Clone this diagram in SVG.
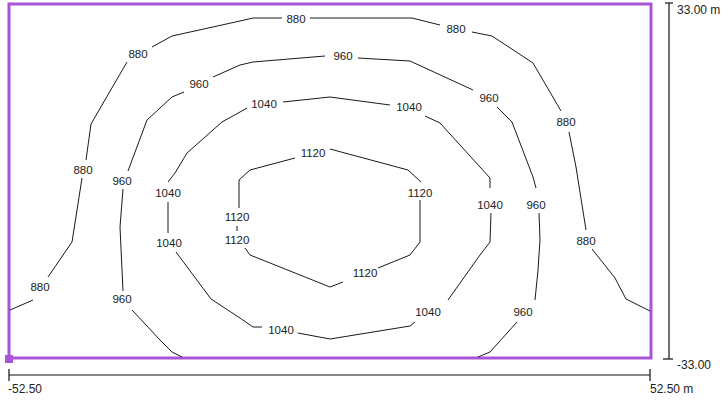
<svg xmlns="http://www.w3.org/2000/svg" width="722" height="401" viewBox="0 0 722 401">
<style>
.c{fill:none;stroke:#1a1a1a;stroke-width:1}
.l{font-family:"Liberation Sans",Arial,sans-serif;font-size:11.5px;fill:#222;text-anchor:middle}
.s{font-family:"Liberation Sans",Arial,sans-serif;font-size:12px;fill:#222}
.ax{fill:none;stroke:#111;stroke-width:1.2}
</style>
<rect width="722" height="401" fill="#fff"/>
<g id="frame">
<rect x="9" y="4" width="642" height="354" fill="none" stroke="#a855d8" stroke-width="3"/>
<rect x="5" y="355" width="8" height="8" fill="#a855d8"/>
</g>
<g id="connectors">
<g id="c880">
<polyline class="c" points="10,310 33,300"/>
<polyline class="c" points="48,277 72,242 82,178"/>
<polyline class="c" points="86,160 91,124 127,62"/>
<polyline class="c" points="152,47 172,36 240,21 253,18 282,18"/>
<polyline class="c" points="310,18 412,18 440,25"/>
<polyline class="c" points="472,32 492,36 533,63 561,111"/>
<polyline class="c" points="569,132 576,167 586,230"/>
<polyline class="c" points="592,249 615,278 626,299 650,311"/>
</g>
<g id="c960">
<polyline class="c" points="182,357 172,352 160,340 132,310"/>
<polyline class="c" points="123,291 120,227 123,189"/>
<polyline class="c" points="128,171 147,120 172,97 184,92"/>
<polyline class="c" points="213,77 240,65 253,62 325,56"/>
<polyline class="c" points="358,58 410,61 473,90"/>
<polyline class="c" points="497,107 512,122 533,177 536,188"/>
<polyline class="c" points="539,213 540,240 538,270 535,300"/>
<polyline class="c" points="517,322 490,352 478,357"/>
</g>
<g id="c1040">
<polyline class="c" points="168,182 175,173 187,153 222,122 240,112 247,108"/>
<polyline class="c" points="283,102 330,97 390,105"/>
<polyline class="c" points="425,116 440,123 490,178 490,188"/>
<polyline class="c" points="491,213 490,242 480,255 448,300"/>
<polyline class="c" points="415,322 410,326 330,339 298,333"/>
<polyline class="c" points="262,327 253,327 240,318 211,299 176,252"/>
<polyline class="c" points="168,202 168,233"/>
</g>
<g id="c1120">
<polyline class="c" points="295,158 250,170 239,180 239,208"/>
<polyline class="c" points="237,226 237,231"/>
<polyline class="c" points="245,248 250,255 330,287 343,282"/>
<polyline class="c" points="378,268 410,255 420,242 420,200"/>
<polyline class="c" points="421,182 408,170 330,149"/>
</g>
</g>
<g id="labels">
<text class="l" x="40" y="291">880</text>
<text class="l" x="83" y="174">880</text>
<text class="l" x="138" y="58">880</text>
<text class="l" x="296" y="23">880</text>
<text class="l" x="456" y="33">880</text>
<text class="l" x="566" y="126">880</text>
<text class="l" x="586" y="245">880</text>
<text class="l" x="122" y="303">960</text>
<text class="l" x="122" y="185">960</text>
<text class="l" x="199" y="88">960</text>
<text class="l" x="343" y="60">960</text>
<text class="l" x="489" y="102">960</text>
<text class="l" x="536" y="209">960</text>
<text class="l" x="523" y="316">960</text>
<text class="l" x="168" y="197">1040</text>
<text class="l" x="169" y="247">1040</text>
<text class="l" x="264" y="108">1040</text>
<text class="l" x="409" y="111">1040</text>
<text class="l" x="490" y="209">1040</text>
<text class="l" x="428" y="316">1040</text>
<text class="l" x="281" y="334">1040</text>
<text class="l" x="313" y="157">1120</text>
<text class="l" x="237" y="221">1120</text>
<text class="l" x="237" y="244">1120</text>
<text class="l" x="420" y="197">1120</text>
<text class="l" x="365" y="277">1120</text>
</g>
<g id="scales">
<polyline class="ax" points="665,3 673,3"/>
<polyline class="ax" points="669,3 669,359"/>
<polyline class="ax" points="663,359 673,359"/>
<polyline class="ax" points="9,375 650,375"/>
<polyline class="ax" points="9,369 9,381"/>
<polyline class="ax" points="650,369 650,381"/>
<text class="s" x="677" y="14">33.00 m</text>
<text class="s" x="677" y="369">-33.00</text>
<text class="s" x="8" y="393">-52.50</text>
<text class="s" x="650" y="393">52.50 m</text>
</g>
</svg>
